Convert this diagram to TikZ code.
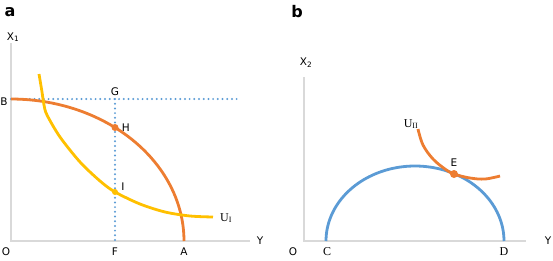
\documentclass[tikz,border=0pt]{standalone}
\usepackage{fontspec}
\setmainfont{DejaVu Sans}
\newfontfamily\serifont{Liberation Serif}
\usepackage{tikz}
\usetikzlibrary{positioning}

\definecolor{ppforange}{HTML}{ED7D31}
\definecolor{indyellow}{HTML}{FFC000}
\definecolor{arcblue}{HTML}{5B9BD5}
\definecolor{axisgray}{HTML}{D9D9D9}

\begin{document}
\begin{tikzpicture}[
    x=1pt, y=-1pt,
    axis/.style={draw=axisgray, line width=1.6pt},
    ppf/.style={draw=ppforange, line width=2.8pt},
    indiff/.style={draw=indyellow, line width=2.8pt},
    frontier/.style={draw=arcblue, line width=2.8pt},
    guide/.style={draw=arcblue, line width=2.2pt, line cap=round,
                  dash pattern=on 0pt off 4.7pt},
    lbl/.style={font=\fontsize{10.5}{11}\selectfont, inner sep=1pt},
    slbl/.style={font=\serifont\fontsize{12}{12}\selectfont, inner sep=1pt},
    panel/.style={font=\bfseries\fontsize{16}{16}\selectfont, inner sep=0pt},
    dot/.style={circle, inner sep=0pt, minimum size=7pt},
  ]
  \useasboundingbox (0,0) rectangle (553,260);

  % panel a
  \node[panel] (pa) at (10,12) {a};
  \coordinate (oa) at (11,241);
  \coordinate (ya) at (11,43);
  \coordinate (xa) at (250,241);
  \draw[axis] (ya) -- (oa) -- (xa);
  \node[lbl] (X1) at (13,37) {X\textsubscript{1}};
  \node[lbl] (Ya) at (260,241) {Y};
  \node[lbl] (O1) at (6,252) {O};
  \node[lbl] (B) at (4,102) {B};
  \node[lbl] (F) at (115,252) {F};
  \node[lbl] (A) at (184,252) {A};
  \node[lbl] (G) at (115,92) {G};

  \coordinate (pB) at (11,99);
  \coordinate (pG) at (115,99);
  \coordinate (pF) at (115,241);
  \coordinate (dotend) at (239,99);
  \draw[guide] (pB) -- (dotend);
  \draw[guide] (pG) -- (pF);

  % production frontier and indifference curve
  \draw[ppf] plot[domain=90:0, samples=60] ({11+173*cos(\x)},{241-142*sin(\x)});
  \draw[indiff] plot[smooth, tension=0.5] coordinates {(39,74) (42,92) (44,105)
      (47,115) (60,137) (80,162) (100,181) (115,192) (140,204) (165,212)
      (190,216) (213,217)};
  \node[dot, fill=ppforange] (H) at (115,127.5) {};
  \node[dot, fill=indyellow, minimum size=6pt] (I) at (115,192) {};
  \node[lbl, right=2pt of H] (Hl) {H};
  \node[lbl] (Il) at (123,187) {I};
  \node[slbl] (UI) at (226,218) {U\textsubscript{I}};

  % panel b
  \node[panel] (pb) at (297,12) {b};
  \coordinate (ob) at (304,241);
  \coordinate (yb) at (304,77);
  \coordinate (xb) at (526,241);
  \draw[axis] (yb) -- (ob) -- (xb);
  \node[lbl] (X2) at (306,63) {X\textsubscript{2}};
  \node[lbl] (Yb) at (548,241) {Y};
  \node[lbl] (O2) at (293,252) {O};
  \node[slbl] (C) at (327,252) {C};
  \node[slbl] (D) at (504,252) {D};

  \draw[frontier] plot[domain=180:0, samples=80] ({415+89*cos(\x)},{241-75*sin(\x)});
  \draw[ppf] plot[smooth, tension=0.6] coordinates {(418,129) (423,145) (433,159)
      (445,169) (454,174) (470,178) (485,179) (500,176)};
  \node[dot, fill=ppforange, minimum size=8pt] (E) at (454,174) {};
  \node[lbl, above=2pt of E] (El) {E};
  \node[slbl] (UII) at (411,124) {U\textsubscript{II}};
\end{tikzpicture}
\end{document}
